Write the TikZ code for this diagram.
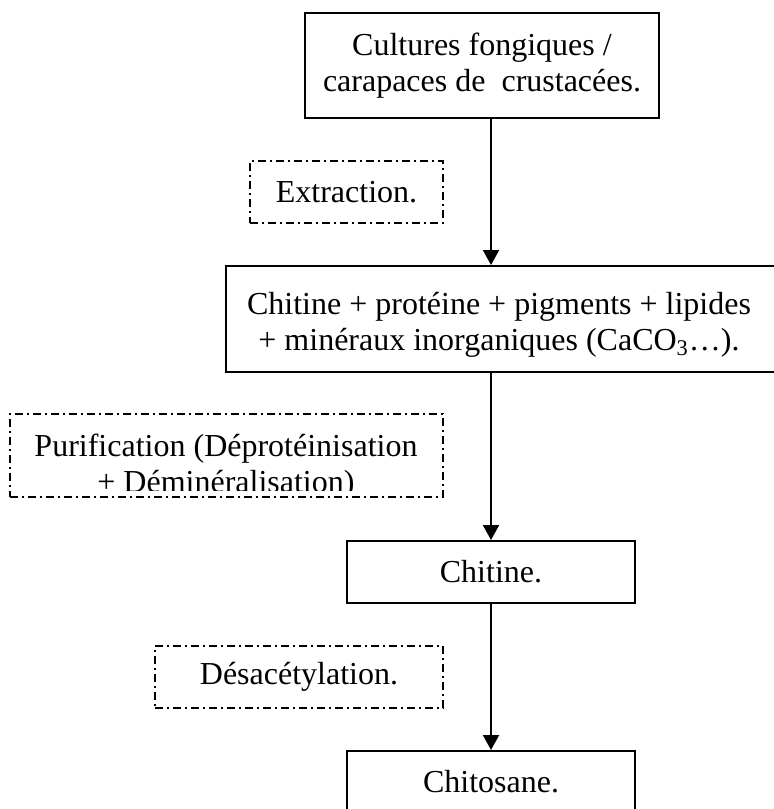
\documentclass[tikz,border=0pt]{standalone}
\usepackage{fontspec}
\setmainfont{Liberation Serif}
\usetikzlibrary{arrows.meta}
\begin{document}
\begin{tikzpicture}[x=0.5pt,y=-0.5pt,
  every node/.style={font=\fontsize{16pt}{18pt}\selectfont, inner sep=0pt, align=center},
  box/.style={draw, line width=1pt},
  dbox/.style={draw, line width=0.75pt, dash pattern=on 4pt off 2pt on 1pt off 2pt},
  arr/.style={line width=1pt, -{Triangle[length=7.5pt,width=8pt]}}]
\useasboundingbox (0,0) rectangle (774,809);
\clip (0,0) rectangle (774,809);
\coordinate (ax) at (491,0);
% solid boxes
\node[box, minimum width=177pt, minimum height=52.5pt] (src) at (482,65.5) {};
\node (srctxt) at (482,66) {\fontsize{16pt}{20pt}\selectfont Cultures fongiques /\\carapaces de\ \ crustacées.};
\node[box, minimum width=282pt, minimum height=53pt] (mix) at (508,319) {};
\node (mixtxt) at (499,325) {Chitine + protéine + pigments + lipides\\+ minéraux inorganiques (CaCO\textsubscript{3}…).};
\node[box, minimum width=144pt, minimum height=31pt] (chit) at (491,572) {Chitine.};
\node[box, minimum width=144pt, minimum height=31pt] (chito) at (491,782) {Chitosane.};
% dashed boxes
\node[dbox, minimum width=96.5pt, minimum height=31pt] (extr) at (346.5,192) {Extraction.};
\node[dbox, minimum width=216.5pt, minimum height=41.5pt] (purif) at (226.5,455.5) {};
\begin{scope}
  \clip (12,416) rectangle (441,490);
  \node (puriftxt) at (226,467) {\fontsize{16pt}{22pt}\selectfont Purification (Déprotéinisation\\+ Déminéralisation)};
\end{scope}
\node[dbox, minimum width=144pt, minimum height=31pt] (desac) at (299,677) {Désacétylation.};
% arrows
\draw[arr] (src.south -| ax) -- (mix.north -| ax);
\draw[arr] (mix.south -| ax) -- (chit.north -| ax);
\draw[arr] (chit.south -| ax) -- (chito.north -| ax);
\end{tikzpicture}
\end{document}
